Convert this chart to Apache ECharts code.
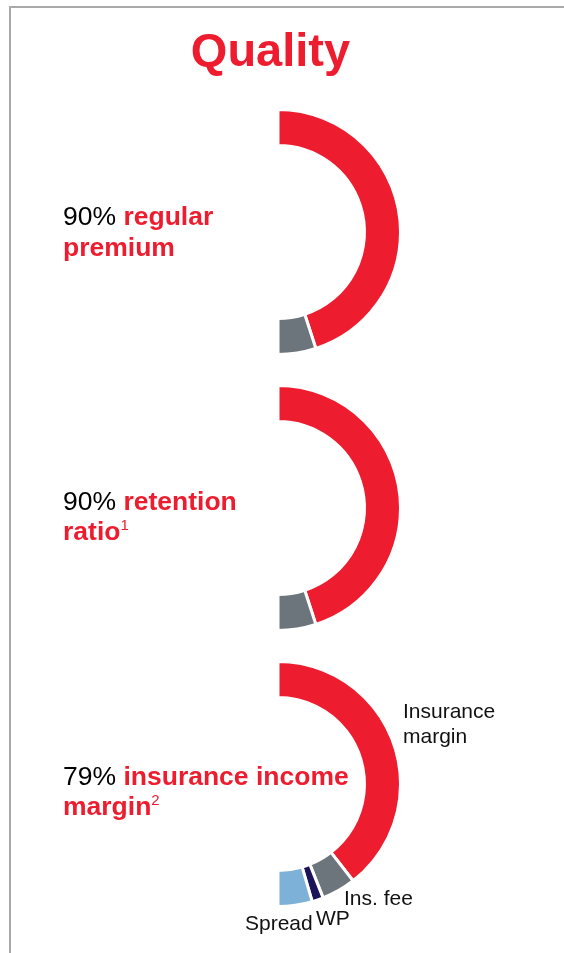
<!DOCTYPE html>
<html>
<head>
<meta charset="utf-8">
<script src="https://cdn.jsdelivr.net/npm/echarts@6/dist/echarts.min.js"></script>
<style>
  html, body { margin: 0; padding: 0; background: #ffffff; }
  #chart { width: 564px; height: 953px; }
</style>
</head>
<body>
<div id="chart"></div>
<script>
// Split of new business by premium type (%)
const premiumNames = ['Regular premium', 'Single premium'];
const premiumValues = [90, 10];

// Policy retention (%)
const retentionNames = ['Retained', 'Lapsed'];
const retentionValues = [90, 10];

// Insurance income by source (%)
const incomeNames = ['Insurance\nmargin', 'Ins. fee', 'WP', 'Spread'];
const incomeValues = [79, 9, 3, 9];

// Headline wording beside each half-ring
const headlineTitles = [['regular', 'premium'], ['retention', 'ratio'], ['insurance income', 'margin']];
const footnoteMarks = ['', '1', '2'];

const RED = '#ED1C2E';
const GRAY = '#6C757B';
const NAVY = '#1C1259';
const BLUE = '#7DB1D7';
const FONT = "'Liberation Sans', Arial, sans-serif";

const ringCentersY = [232, 508, 784];
const headlineBaselines = [[226.7, 257.5], [511.7, 541.5], [786.7, 816.5]];

// placement of the source labels around the third ring
const LABEL_SIZE = 21;
const incomeLabelX = [403, 344, 316, 245];
const incomeLabelBaseline = [719.5, 906.7, 926.5, 931];

function ring(cy, names, values, colors, withLabels) {
  return {
    type: 'pie',
    center: [278, cy],
    radius: [86.5, 122.5],
    startAngle: 90,
    endAngle: -90,
    clockwise: true,
    silent: true,
    animation: false,
    avoidLabelOverlap: false,
    itemStyle: { borderColor: '#ffffff', borderWidth: 3 },
    label: withLabels ? {
      show: true,
      position: 'outside',
      formatter: '{b}',
      fontFamily: FONT,
      fontSize: LABEL_SIZE,
      lineHeight: 25,
      color: '#111111'
    } : { show: false },
    labelLine: { show: false },
    labelLayout: withLabels ? function (p) {
      return {
        x: incomeLabelX[p.dataIndex],
        y: incomeLabelBaseline[p.dataIndex] - 12.5 - 0.3465 * LABEL_SIZE,
        align: 'left',
        verticalAlign: 'top'
      };
    } : null,
    data: values.map((v, i) => ({ value: v, name: names[i], itemStyle: { color: colors[i] } }))
  };
}

const leadValues = [premiumValues[0], retentionValues[0], incomeValues[0]];

const HEAD_SIZE = 26.5;
const richStyles = {
  n: { fontFamily: FONT, fontSize: HEAD_SIZE, fill: '#000000', lineHeight: 30 },
  b: { fontFamily: FONT, fontSize: HEAD_SIZE, fontWeight: 'bold', fill: RED, lineHeight: 30 },
  s: { fontFamily: FONT, fontSize: 15, fill: RED, padding: [0, 0, 12, 0] }
};

const headlineGraphics = [];
leadValues.forEach((v, k) => {
  const mid = 0.3465 * HEAD_SIZE;
  headlineGraphics.push({
    type: 'text', x: 63, y: headlineBaselines[k][0] - mid,
    style: {
      text: '{n|' + v + '% }{b|' + headlineTitles[k][0] + '}',
      rich: richStyles, lineHeight: 30, verticalAlign: 'middle', align: 'left'
    }
  });
  headlineGraphics.push({
    type: 'text', x: 63, y: headlineBaselines[k][1] - mid,
    style: {
      text: '{b|' + headlineTitles[k][1] + '}' + (footnoteMarks[k] ? '{s|' + footnoteMarks[k] + '}' : ''),
      rich: richStyles, lineHeight: 30, verticalAlign: 'middle', align: 'left'
    }
  });
});

const chart = echarts.init(document.getElementById('chart'), null, { renderer: 'canvas' });
chart.setOption({
  backgroundColor: '#ffffff',
  animation: false,
  graphic: [
    {
      type: 'polyline',
      shape: { points: [[10, 953], [10, 7], [564, 7]] },
      style: { stroke: '#A8AAA9', lineWidth: 2, fill: null }
    },
    {
      type: 'text', x: 270.5, y: 69.3 - 0.3465 * 47,
      style: {
        text: 'Quality', fill: RED, fontFamily: FONT, fontSize: 47, fontWeight: 'bold',
        align: 'center', verticalAlign: 'middle'
      }
    }
  ].concat(headlineGraphics),
  series: [
    ring(ringCentersY[0], premiumNames, premiumValues, [RED, GRAY], false),
    ring(ringCentersY[1], retentionNames, retentionValues, [RED, GRAY], false),
    ring(ringCentersY[2], incomeNames, incomeValues, [RED, GRAY, NAVY, BLUE], true)
  ]
});
</script>
</body>
</html>
